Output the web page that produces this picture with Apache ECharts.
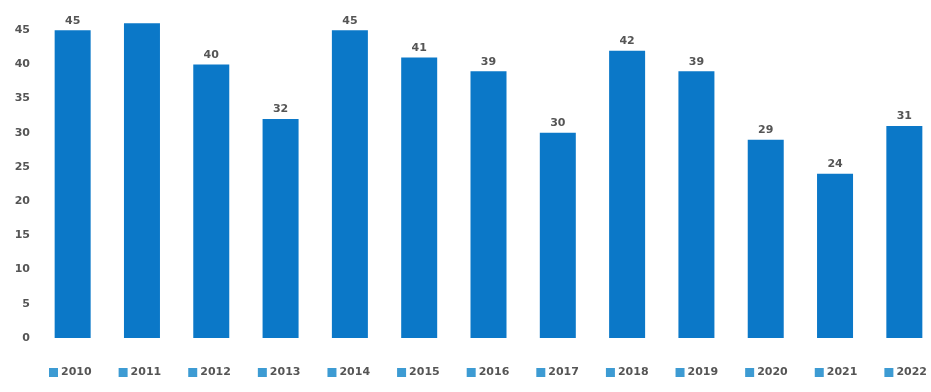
<!DOCTYPE html>
<html>
<head>
<meta charset="utf-8">
<script src="https://cdn.jsdelivr.net/npm/echarts@6/dist/echarts.min.js"></script>
<style>
  html, body { margin: 0; padding: 0; background: #ffffff; }
  #chart { width: 931px; height: 392px; }
</style>
</head>
<body>
<div id="chart"></div>
<script>
// Yearly counts, one bar per year
const years = ['2010', '2011', '2012', '2013', '2014', '2015', '2016', '2017', '2018', '2019', '2020', '2021', '2022'];
const counts = [45, 46, 40, 32, 45, 41, 39, 30, 42, 39, 29, 24, 31];
// years whose value label is not shown
const hiddenLabels = ['2011'];
const yTicks = { min: 0, max: 50, interval: 5 };

const barColor = '#0b78c8';
const textColor = '#555555';
const font = '"DejaVu Sans", Verdana, sans-serif';

// one series per year so each gets its own legend entry; overlapping slots keep bars centred
const series = years.map((y, i) => ({
  name: y,
  type: 'bar',
  barWidth: 36,
  barGap: '-100%',
  itemStyle: { color: barColor },
  label: {
    show: hiddenLabels.indexOf(y) < 0,
    position: 'top',
    distance: 4,
    color: textColor,
    fontFamily: font,
    fontWeight: 'bold',
    fontSize: 11
  },
  data: years.map((_, j) => (j === i ? counts[i] : '-'))
}));

const chart = echarts.init(document.getElementById('chart'), null, { renderer: 'canvas' });
chart.setOption({
  animation: false,
  backgroundColor: '#ffffff',
  // the plot extends slightly past the canvas edges (top and right)
  grid: { left: 38, right: -8, bottom: 54, height: 342, containLabel: false, outerBoundsMode: 'none' },
  legend: {
    data: years,
    bottom: 9,
    left: 44,
    width: 990,
    itemWidth: 9,
    itemHeight: 9,
    itemGap: 27,
    icon: 'rect',
    itemStyle: { color: '#3d9bd3' },
    textStyle: { color: textColor, fontFamily: font, fontWeight: 'bold', fontSize: 11, padding: [0, 0, 0, -2] }
  },
  xAxis: {
    type: 'category',
    data: years,
    axisLine: { show: false },
    axisTick: { show: false },
    axisLabel: { show: false }
  },
  yAxis: {
    type: 'value',
    min: yTicks.min,
    max: yTicks.max,
    interval: yTicks.interval,
    axisLine: { show: false },
    axisTick: { show: false },
    splitLine: { show: false },
    axisLabel: { color: textColor, fontFamily: font, fontWeight: 'bold', fontSize: 11, margin: 8 }
  },
  series: series
});
</script>
</body>
</html>
